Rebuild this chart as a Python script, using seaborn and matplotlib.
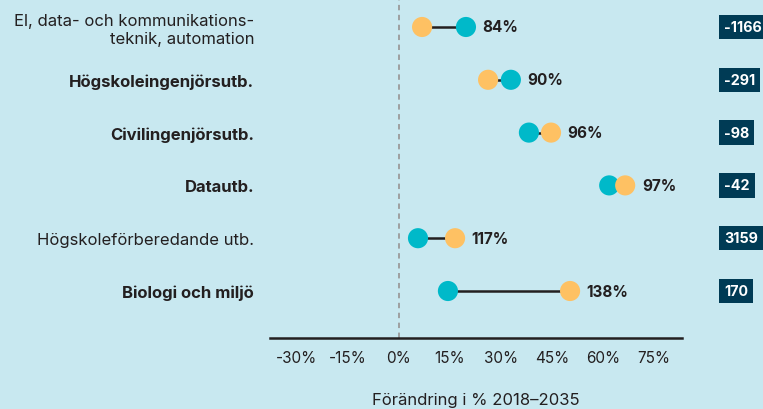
import matplotlib
matplotlib.use("Agg")
import matplotlib.pyplot as plt
import matplotlib.transforms as mtransforms
import seaborn as sns
import pandas as pd

# data
categories = ["El, data- och kommunikations-\nteknik, automation",
              "Högskoleingenjörsutb.",
              "Civilingenjörsutb.",
              "Datautb.",
              "Högskoleförberedande utb.",
              "Biologi och miljö"]
bold_rows = [False, True, True, True, False, True]
series_orange = [6.8, 26.2, 44.7, 66.5, 16.5, 50.3]
series_teal = [19.7, 32.9, 38.2, 61.8, 5.6, 14.4]
pct_labels = ["84%", "90%", "96%", "97%", "117%", "138%"]
diff_labels = ["-1166", "-291", "-98", "-42", "3159", "170"]
xticks = [-30, -15, 0, 15, 30, 45, 60, 75]

BG = "#c8e8f0"
ORANGE = "#fec163"
TEAL = "#00b9c9"
NAVY = "#003b55"
DARK = "#231f20"

sns.set_theme(style="white", rc={"figure.facecolor": BG, "axes.facecolor": BG})
plt.rcParams["font.family"] = ["Inter", "DejaVu Sans"]

fig = plt.figure(figsize=(7.63, 4.10), dpi=100)
ax = fig.add_axes([270 / 763, 71 / 410, (682 - 270) / 763, 339 / 410])

rows = list(range(len(categories)))
df = pd.DataFrame({"row": rows * 2,
                   "value": series_orange + series_teal,
                   "serie": ["orange"] * len(rows) + ["teal"] * len(rows)})

# zero line
ax.axvline(0, color="#9a9a9a", lw=1.3, ls=(0, (3, 2.5)), zorder=1)

# connectors
ax.hlines(rows, [min(a, b) for a, b in zip(series_orange, series_teal)],
          [max(a, b) for a, b in zip(series_orange, series_teal)],
          color=DARK, lw=1.8, zorder=2)

# draw order per row: the right-most dot on top, as in the picture
for i in rows:
    pair = df[df["row"] == i].sort_values("value")
    sns.scatterplot(data=pair, x="value", y="row", hue="serie",
                    palette={"orange": ORANGE, "teal": TEAL},
                    s=210, linewidth=0, legend=False, ax=ax, zorder=3)

# percent labels
for i in rows:
    x = max(series_orange[i], series_teal[i])
    ax.annotate(pct_labels[i], (x, i), xytext=(12, 0), textcoords="offset points",
                ha="left", va="center", fontsize=11, fontweight="bold", color=DARK)

# right boxes
trans = mtransforms.blended_transform_factory(fig.transFigure, ax.transData)
for i in rows:
    ax.text(724 / 763, i, diff_labels[i], transform=trans, ha="left", va="center",
            fontsize=10.3, fontweight="bold", color="white", clip_on=False,
            bbox=dict(boxstyle="square,pad=0.36", fc=NAVY, ec="none"))

ax.set_xlim(-37.9, 83.2)
ax.set_ylim(5.89, -0.53)
ax.set_xticks(xticks)
ax.set_xticklabels([f"{t}%" for t in xticks], fontsize=11, color=DARK)
ax.set_yticks(rows)
ax.set_yticklabels(categories, fontsize=12, color=DARK, ha="right", multialignment="right")
for lab, b in zip(ax.get_yticklabels(), bold_rows):
    lab.set_fontweight("bold" if b else "normal")
ax.tick_params(axis="y", length=0, pad=11.5)
ax.tick_params(axis="x", length=0, pad=9)
ax.set_xlabel("Förändring i % 2018–2035", fontsize=12, color=DARK, labelpad=19)
ax.set_ylabel("")

for side in ["top", "left", "right"]:
    ax.spines[side].set_visible(False)
ax.spines["bottom"].set_color(DARK)
ax.spines["bottom"].set_linewidth(1.8)

fig.savefig("out.png", dpi=100, facecolor=BG)
